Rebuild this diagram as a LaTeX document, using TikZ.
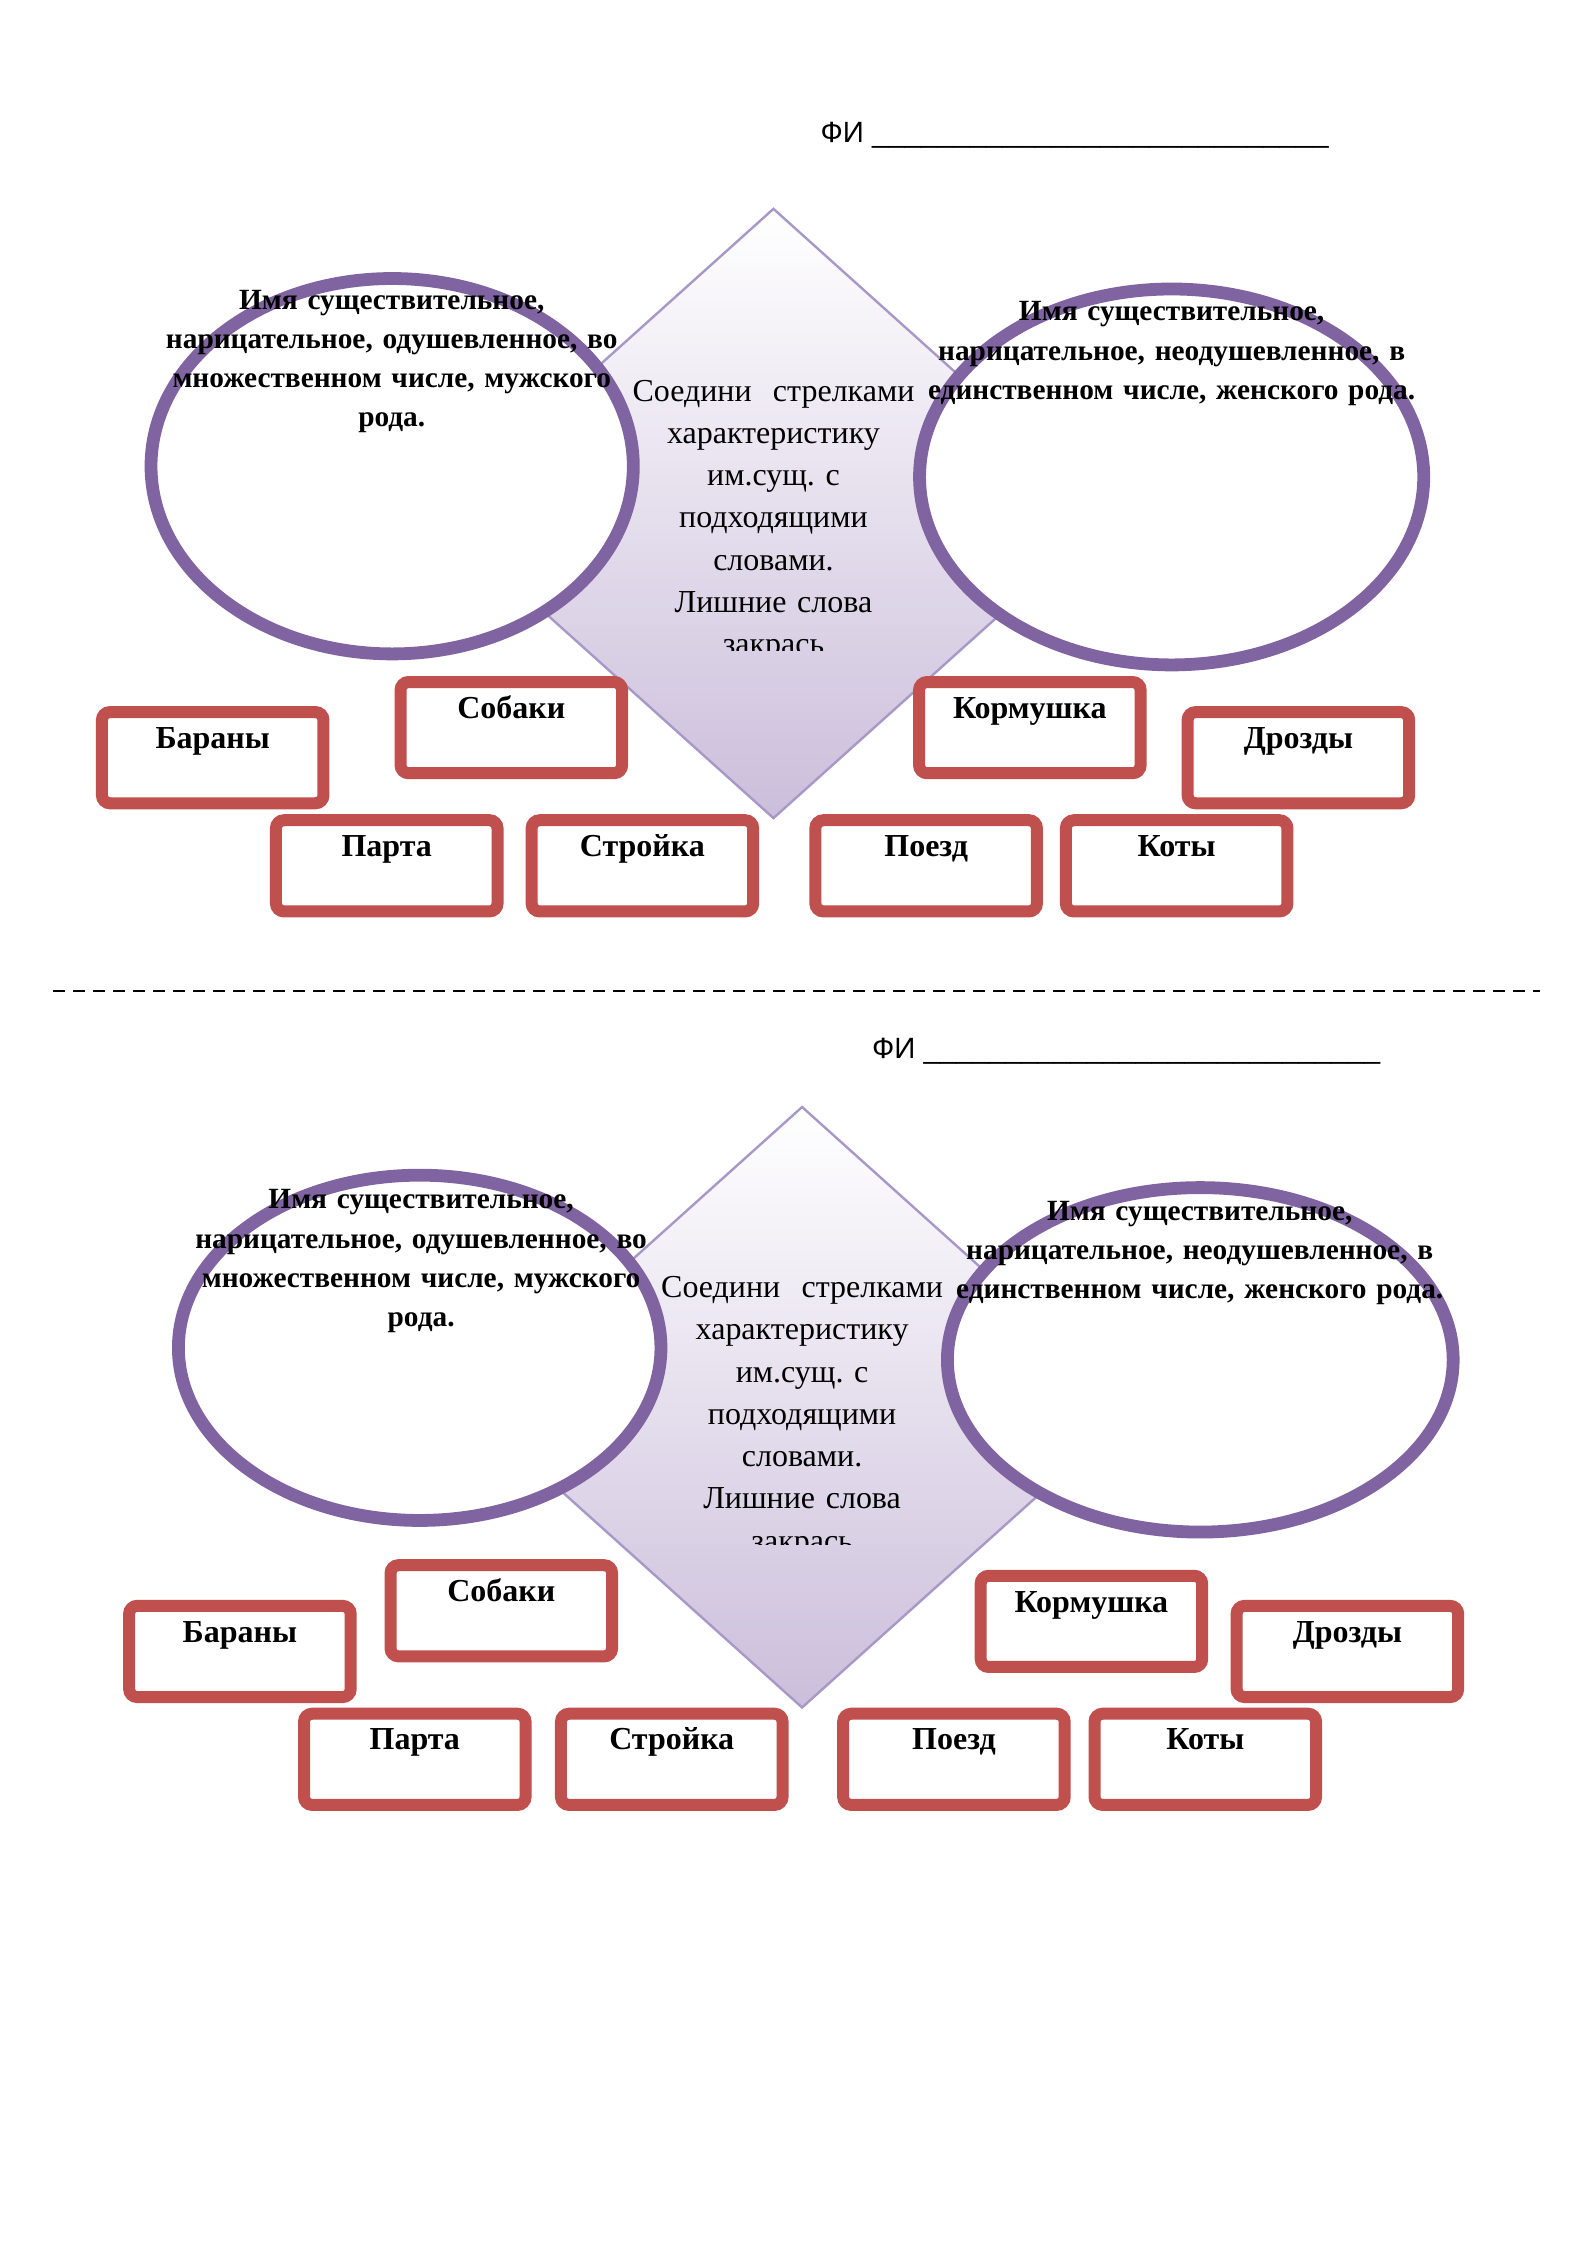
\documentclass[tikz,border=0pt]{standalone}
\usepackage{fontspec}
\setmainfont{Liberation Serif}
\newfontfamily\fisans{Liberation Sans}
\usetikzlibrary{shapes.geometric}
\definecolor{ovalpurple}{HTML}{8064A2}
\definecolor{boxred}{HTML}{C0504D}
\definecolor{rhombline}{HTML}{A898C8}
\definecolor{rhombfill}{HTML}{CBBEDB}
\frenchspacing

\begin{document}
\begin{tikzpicture}[x=0.53725pt,y=-0.53725pt,
  word/.style={draw=boxred,line width=4.5pt,rounded corners=3pt,fill=white,minimum width=83.1pt,inner xsep=0pt,inner ysep=0pt,text height=13.6pt,text depth=20.6pt,font=\bfseries\fontsize{12}{14}\selectfont},
  oval/.style={ellipse,draw=ovalpurple,line width=4.8pt,fill=white,inner sep=0pt},
  rhomb/.style={diamond,draw=rhombline,line width=0.9pt,top color=white,bottom color=rhombfill,inner sep=0pt},
  feature/.style={font=\bfseries\fontsize{11}{14.7}\selectfont,text width=8cm,align=center,anchor=base,inner sep=0pt},
  task/.style={font=\fontsize{12}{15.85}\selectfont,text width=5cm,align=center,anchor=base,inner sep=0pt},
  fio/.style={font=\fisans\fontsize{11}{13}\selectfont,anchor=base west,inner sep=0pt},
  cut/.style={line width=0.8pt,dash pattern=on 4.5pt off 3pt}]
\path[use as bounding box,fill=white] (0,0) rectangle (1108,1567.4);

\node[fio] (fioA) at (572.5,99.2) {ФИ \_\_\_\_\_\_\_\_\_\_\_\_\_\_\_\_\_\_\_\_\_\_\_\_\_\_\_\_};
\node[rhomb,minimum width=254.7pt,minimum height=228.9pt] (rhombA) at (540,358.5) {};
\node[oval,minimum width=180.9pt,minimum height=140.8pt] (ovalA1) at (273.8,325.5) {};
\node[oval,minimum width=189.1pt,minimum height=141pt] (ovalA2) at (818,333) {};
\begin{scope}
\clip (400,255) rectangle (680,454);
\node[task] (taskA) at (540,280) {Соедини~ стрелками\\характеристику\\им.сущ. с\\подходящими\\словами.\\Лишние слова\\закрась};
\end{scope}
\node[feature] (featA1) at (273.5,216) {Имя существительное,\\нарицательное, одушевленное, во\\множественном числе, мужского\\рода.};
\node[feature] (featA2) at (818,224) {Имя существительное,\\нарицательное, неодушевленное, в\\единственном числе, женского рода.};
\node[word] (baranyA) at (148.5,529) {Бараны};
\node[word] (sobakiA) at (357,508) {Собаки};
\node[word] (kormA) at (719,508) {Кормушка};
\node[word] (drozdyA) at (906.5,529) {Дрозды};
\node[word] (partaA) at (270,604.5) {Парта};
\node[word] (stroykaA) at (448.5,604.5) {Стройка};
\node[word] (poezdA) at (646.6,604.5) {Поезд};
\node[word] (kotyA) at (821.5,604.5) {Коты};

\coordinate (cutL) at (37,692);
\coordinate (cutR) at (1075,692);
\draw[cut] (cutL) -- (cutR);

\node[fio] (fioB) at (608.5,738.9) {ФИ \_\_\_\_\_\_\_\_\_\_\_\_\_\_\_\_\_\_\_\_\_\_\_\_\_\_\_\_};
\node[rhomb,minimum width=251pt,minimum height=225.6pt] (rhombB) at (560,982.5) {};
\node[oval,minimum width=181pt,minimum height=129.5pt] (ovalB1) at (293,941) {};
\node[oval,minimum width=189.7pt,minimum height=129.2pt] (ovalB2) at (838,949.4) {};
\begin{scope}
\clip (420,880) rectangle (700,1078);
\node[task] (taskB) at (560,906) {Соедини~ стрелками\\характеристику\\им.сущ. с\\подходящими\\словами.\\Лишние слова\\закрась};
\end{scope}
\node[feature] (featB1) at (294,844) {Имя существительное,\\нарицательное, одушевленное, во\\множественном числе, мужского\\рода.};
\node[feature] (featB2) at (837.6,852) {Имя существительное,\\нарицательное, неодушевленное, в\\единственном числе, женского рода.};
\node[word] (baranyB) at (167.5,1153) {Бараны};
\node[word] (sobakiB) at (350,1124.6) {Собаки};
\node[word] (kormB) at (762,1132) {Кормушка};
\node[word] (drozdyB) at (940.7,1153) {Дрозды};
\node[word] (partaB) at (289.6,1228.3) {Парта};
\node[word] (stroykaB) at (469,1228.3) {Стройка};
\node[word] (poezdB) at (666,1228.3) {Поезд};
\node[word] (kotyB) at (841.5,1228.3) {Коты};
\end{tikzpicture}
\end{document}
